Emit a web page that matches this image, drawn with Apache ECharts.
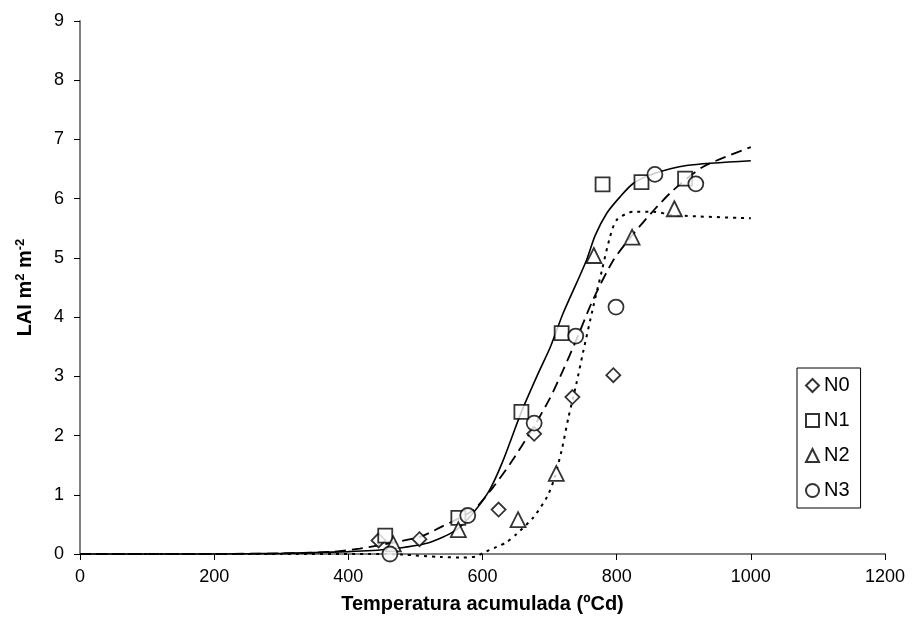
<!DOCTYPE html>
<html>
<head>
<meta charset="utf-8">
<script src="https://cdn.jsdelivr.net/npm/echarts@6/dist/echarts.min.js"></script>
<style>html,body{margin:0;padding:0;background:#fff}#c{width:913px;height:640px}</style>
</head>
<body>
<div id="c"></div>
<script>
// Observed data
const n0x = [445, 506, 624, 677, 734, 795];
const n0y = [0.23, 0.25, 0.75, 2.03, 2.65, 3.02];
const n1x = [455, 564, 658, 718, 779, 837, 902];
const n1y = [0.31, 0.61, 2.40, 3.73, 6.24, 6.28, 6.34];
const n2x = [467, 564, 653, 710, 766, 823, 886];
const n2y = [0.17, 0.41, 0.58, 1.36, 5.04, 5.35, 5.83];
const n3x = [462, 578, 677, 739, 799, 857, 918];
const n3y = [0.00, 0.65, 2.21, 3.68, 4.17, 6.41, 6.25];
// Fitted curves
const solidX = [0, 100, 200, 300, 400, 460, 520, 560, 585, 610, 630, 658, 683, 701, 720, 740, 755, 768, 785, 805, 825, 855, 904, 1000];
const solidY = [0, 0, 0, 0.01, 0.04, 0.08, 0.19, 0.40, 0.68, 1.07, 1.56, 2.40, 3.05, 3.49, 4.06, 4.57, 4.96, 5.38, 5.75, 6.03, 6.26, 6.42, 6.56, 6.64];
const dashX = [0, 200, 300, 333, 378, 417, 437, 507, 537, 586, 616, 641, 676, 700, 720, 740, 765, 795, 823, 855, 884, 929, 1000];
const dashY = [0, 0.002, 0.01, 0.02, 0.04, 0.09, 0.13, 0.29, 0.45, 0.74, 1.13, 1.52, 2.14, 2.62, 3.10, 3.62, 4.30, 4.96, 5.38, 5.80, 6.14, 6.54, 6.87];
const dotX = [0, 300, 450, 480, 537, 571, 591, 601, 621, 636, 651, 676, 696, 706, 718, 728, 740, 750, 765, 778, 790, 800, 825, 855, 885, 1000];
const dotY = [0, 0, 0, -0.01, -0.05, -0.06, -0.04, 0.02, 0.12, 0.20, 0.34, 0.62, 0.96, 1.24, 1.75, 2.30, 2.88, 3.41, 4.17, 4.79, 5.35, 5.64, 5.78, 5.78, 5.72, 5.67];
const xTicks = [0, 200, 400, 600, 800, 1000, 1200];
const yTicks = [0, 1, 2, 3, 4, 5, 6, 7, 8, 9];
const seriesNames = ['N0', 'N1', 'N2', 'N3'];

const zip = (a, b) => a.map((v, i) => [v, b[i]]);
const FONT = 'Liberation Sans, Arial, sans-serif';
const chart = echarts.init(document.getElementById('c'), null, {renderer: 'canvas'});

const markerStyle = {color: '#fff', borderColor: '#000', borderWidth: 1.8};
function scatter(name, xs, ys, symbol, size) {
  return {name, type: 'scatter', data: zip(xs, ys), symbol, symbolSize: size,
    itemStyle: markerStyle, z: 5, clip: false};
}
function line(xs, ys, type, width) {
  return {type: 'line', data: zip(xs, ys), showSymbol: false, symbol: 'none', smooth: 0.25,
    lineStyle: {color: '#000', width, type}, z: 3, clip: false, silent: true};
}

chart.setOption({
  animation: false,
  backgroundColor: '#fff',
  textStyle: {fontFamily: FONT},
  grid: {left: 80, right: 28, top: 21, bottom: 86, containLabel: false},
  legend: {
    data: seriesNames, orient: 'vertical', left: 797, top: 368,
    padding: [7, 11, 7, 8], itemGap: 14, itemWidth: 13, itemHeight: 13,
    borderColor: '#000', borderWidth: 1, backgroundColor: '#fff',
    textStyle: {fontFamily: FONT, fontSize: 20, color: '#000', lineHeight: 21}
  },
  xAxis: {
    type: 'value', min: 0, max: 1200, interval: 200,
    name: 'Temperatura acumulada (ºCd)', nameLocation: 'middle', nameGap: 40,
    nameTextStyle: {fontFamily: FONT, fontSize: 20, fontWeight: 'bold', color: '#000'},
    axisLine: {show: true, lineStyle: {color: '#808080', width: 2}},
    axisTick: {show: true, inside: false, length: 6, lineStyle: {color: '#000', width: 1}},
    axisLabel: {fontFamily: FONT, fontSize: 18, color: '#000', margin: 14,
      formatter: v => xTicks.includes(v) ? String(v) : ''},
    splitLine: {show: false}
  },
  yAxis: {
    type: 'value', min: 0, max: 9, interval: 1,
    name: 'LAI m{sup|2} m{sup|-2}', nameLocation: 'middle', nameGap: 44, nameRotate: 90,
    nameTextStyle: {fontFamily: FONT, fontSize: 20, fontWeight: 'bold', color: '#000',
      rich: {sup: {fontFamily: FONT, fontSize: 13, fontWeight: 'bold', color: '#000', verticalAlign: 'top', padding: [0, 0, 9, 0]}}},
    axisLine: {show: true, lineStyle: {color: '#808080', width: 2}},
    axisTick: {show: true, inside: false, length: 6, lineStyle: {color: '#000', width: 1}},
    axisLabel: {fontFamily: FONT, fontSize: 18, color: '#000', margin: 16,
      formatter: v => yTicks.includes(v) ? String(v) : ''},
    splitLine: {show: false}
  },
  series: [
    line(solidX, solidY, 'solid', 1.6),
    line(dashX, dashY, [11, 6], 1.8),
    line(dotX, dotY, [3, 5], 2),
    scatter('N0', n0x, n0y, 'diamond', 14),
    scatter('N1', n1x, n1y, 'rect', 14),
    scatter('N2', n2x, n2y, 'triangle', 15),
    scatter('N3', n3x, n3y, 'circle', 15)
  ]
});
</script>
</body>
</html>
